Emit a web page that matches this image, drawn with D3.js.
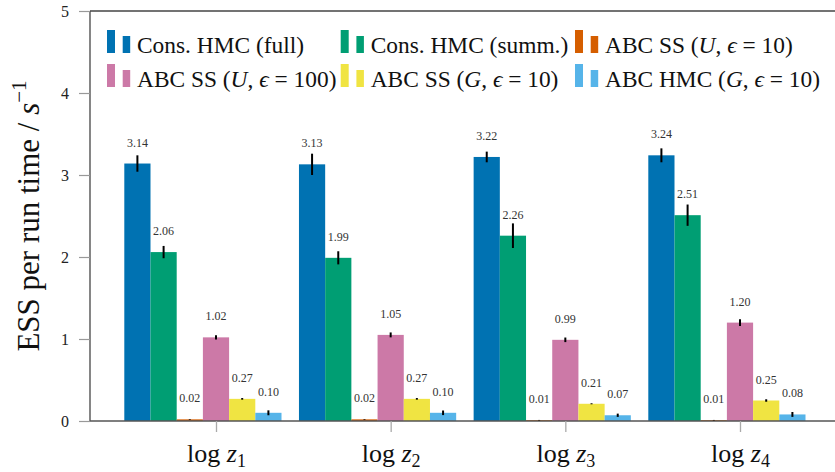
<!DOCTYPE html>
<html>
<head>
<meta charset="utf-8">
<script src="https://cdn.jsdelivr.net/npm/d3@7/dist/d3.min.js"></script>
<style>
  html, body { margin: 0; padding: 0; background: #fff; }
  svg { display: block; }
  svg text { font-family: 'Liberation Serif', 'DejaVu Serif', 'Noto Serif', 'Times New Roman', Times, serif; }
</style>
</head>
<body>
<svg id="chart" width="835" height="472"></svg>
<script>
// ---- data ----
const categories = ["1", "2", "3", "4"];
const seriesNames = [
  "Cons. HMC (full)",
  "Cons. HMC (summ.)",
  "ABC SS (U, ϵ = 10)",
  "ABC SS (U, ϵ = 100)",
  "ABC SS (G, ϵ = 10)",
  "ABC HMC (G, ϵ = 10)"
];
const consFull     = [3.14, 3.13, 3.22, 3.24];
const consSumm     = [2.06, 1.99, 2.26, 2.51];
const ssU10        = [0.02, 0.02, 0.01, 0.01];
const ssU100       = [1.02, 1.05, 0.99, 1.20];
const ssG10        = [0.27, 0.27, 0.21, 0.25];
const hmcG10       = [0.10, 0.10, 0.07, 0.08];
const errConsFull  = [0.10, 0.13, 0.065, 0.085];
const errConsSumm  = [0.075, 0.08, 0.15, 0.13];
const errSsU10     = [0.004, 0.004, 0.003, 0.003];
const errSsU100    = [0.025, 0.03, 0.028, 0.04];
const errSsG10     = [0.01, 0.01, 0.006, 0.015];
const errHmcG10    = [0.03, 0.028, 0.02, 0.03];
const yTicks = [0, 1, 2, 3, 4, 5];
const colors = ["#0072B2", "#009E73", "#D55E00", "#CC79A7", "#F0E442", "#56B4E9"];

const values = [consFull, consSumm, ssU10, ssU100, ssG10, hmcG10];
const errors = [errConsFull, errConsSumm, errSsU10, errSsU100, errSsG10, errHmcG10];

// ---- layout ----
const FONT = "'Liberation Serif', 'DejaVu Serif', 'Noto Serif', 'Times New Roman', Times, serif";
const svg = d3.select("#chart").style("font-family", FONT);
const mLeft = 90, mTop = 11, mBottom = 421, mRight = 840;
const y = d3.scaleLinear().domain([0, 5]).range([mBottom, mTop]);
const x = d3.scalePoint().domain(categories).range([216, 740]);
const bw = 26.2;

// frame
svg.append("line").attr("x1", mLeft).attr("x2", mLeft).attr("y1", mTop).attr("y2", mBottom)
  .attr("stroke", "#444").attr("stroke-width", 1.3);
svg.append("line").attr("x1", mLeft).attr("x2", mRight).attr("y1", mTop).attr("y2", mTop)
  .attr("stroke", "#444").attr("stroke-width", 1.3);

// y axis
const yAxis = d3.axisLeft(y).tickValues(yTicks).tickSize(11).tickPadding(10).tickFormat(d3.format("d"));
const gy = svg.append("g").attr("transform", `translate(${mLeft},0)`).call(yAxis)
  .attr("font-family", FONT);
gy.select(".domain").remove();
gy.selectAll(".tick line").attr("stroke", "#999").attr("stroke-width", 1.2);
gy.selectAll(".tick text").attr("font-size", 16).attr("fill", "#222");

// bars
const groups = svg.append("g");
values.forEach((vals, j) => {
  vals.forEach((v, i) => {
    const cx = x(categories[i]) + (j - 3) * bw;
    groups.append("rect")
      .attr("x", cx - bw / 2).attr("width", bw)
      .attr("y", y(v)).attr("height", y(0) - y(v))
      .attr("fill", colors[j]);
  });
});

// bottom axis
svg.append("line").attr("x1", mLeft).attr("x2", mRight).attr("y1", mBottom).attr("y2", mBottom)
  .attr("stroke", "#555").attr("stroke-width", 1.3);
const xAxis = d3.axisBottom(x).tickSize(11).tickFormat("");
const gx = svg.append("g").attr("transform", `translate(0,${mBottom})`).call(xAxis)
  .attr("font-family", FONT);
gx.select(".domain").remove();
gx.selectAll(".tick line").attr("stroke", "#aaa").attr("stroke-width", 1.3);
gx.selectAll(".tick").each(function(d) {
  const t = d3.select(this).append("text")
    .attr("y", 41).attr("text-anchor", "middle")
    .attr("font-size", 26).attr("fill", "#111");
  t.append("tspan").text("log ");
  t.append("tspan").attr("font-style", "italic").text("z");
  t.append("tspan").attr("font-size", 18).attr("dy", 5).text(d);
});

// error bars and labels
values.forEach((vals, j) => {
  vals.forEach((v, i) => {
    const cx = x(categories[i]) + (j - 3) * bw;
    const e = errors[j][i];
    svg.append("line")
      .attr("x1", cx).attr("x2", cx)
      .attr("y1", y(v + e)).attr("y2", y(v - e))
      .attr("stroke", "#000").attr("stroke-width", 2);
    svg.append("text")
      .attr("x", cx).attr("y", y(v) - 17)
      .attr("text-anchor", "middle")
      .attr("font-size", 12).attr("fill", "#333")
      .text(v.toFixed(2));
  });
});

// y title
const yt = svg.append("text")
  .attr("transform", "translate(39,216) rotate(-90)")
  .attr("text-anchor", "middle")
  .attr("font-size", 31).attr("fill", "#111");
yt.append("tspan").text("ESS per run time / ");
yt.append("tspan").attr("font-style", "italic").text("s");
yt.append("tspan").attr("font-size", 21).attr("dy", -13).text("−1");

// legend
const legX = [107, 340.7, 575];
const legY = [53, 87];
function legendLabel(t, name) {
  const m = name.match(/^(.*\()([UG]), ϵ = (\d+)\)$/);
  if (!m) { t.append("tspan").text(name); return; }
  t.append("tspan").text(m[1]);
  t.append("tspan").attr("font-style", "italic").text(m[2]);
  t.append("tspan").text(", ");
  t.append("tspan").attr("font-style", "italic").text("ϵ");
  t.append("tspan").text(" = " + m[3] + ")");
}
seriesNames.forEach((name, j) => {
  const col = j % 3, row = Math.floor(j / 3);
  const lx = legX[col], ly = legY[row];
  const g = svg.append("g");
  g.append("rect").attr("x", lx).attr("y", ly - 23).attr("width", 8).attr("height", 23).attr("fill", colors[j]);
  g.append("rect").attr("x", lx + 15.7).attr("y", ly - 17).attr("width", 7.5).attr("height", 17).attr("fill", colors[j]);
  const t = g.append("text").attr("x", lx + 30).attr("y", ly)
    .attr("font-size", 23.4).attr("fill", "#111");
  legendLabel(t, name);
});
</script>
</body>
</html>
